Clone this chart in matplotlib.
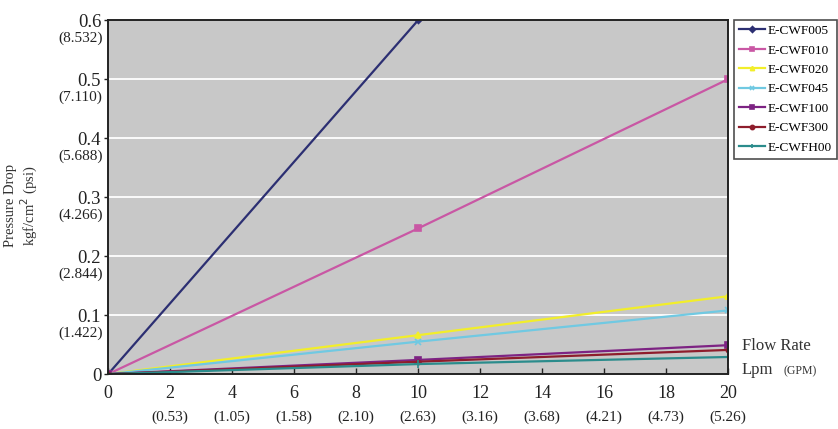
import matplotlib
matplotlib.use("Agg")
import matplotlib.pyplot as plt
import numpy as np

plt.rcParams['font.family'] = ['Liberation Serif', 'DejaVu Serif']

# flow rate in Lpm
flow = [0, 10, 20]
gpm_labels = ['', '(0.53)', '(1.05)', '(1.58)', '(2.10)', '(2.63)', '(3.16)', '(3.68)', '(4.21)', '(4.73)', '(5.26)']
x_ticks = [0, 2, 4, 6, 8, 10, 12, 14, 16, 18, 20]

y_ticks = [0, 0.1, 0.2, 0.3, 0.4, 0.5, 0.6]
psi_labels = ['', '(1.422)', '(2.844)', '(4.266)', '(5.688)', '(7.110)', '(8.532)']

names = ['E-CWF005', 'E-CWF010', 'E-CWF020', 'E-CWF045', 'E-CWF100', 'E-CWF300', 'E-CWFH00']
cwf005 = [0, 0.6, None]
cwf010 = [0, 0.247, 0.5]
cwf020 = [0, 0.066, 0.132]
cwf045 = [0, 0.055, 0.108]
cwf100 = [0, 0.024, 0.049]
cwf300 = [0, 0.021, 0.041]
cwfh00 = [0, 0.017, 0.029]
series = [cwf005, cwf010, cwf020, cwf045, cwf100, cwf300, cwfh00]

colors = ['#2c2f72', '#c957a4', '#f2ee2a', '#70c9e2', '#7d2383', '#8e1d2c', '#2b8c8c']
markers = ['D', 's', '^', 'x', 's', 'o', '+']
msizes = [3, 4, 4, 4, 4, 3, 6]

fig = plt.figure(figsize=(8.38, 4.29), dpi=100)
ax = fig.add_axes([0.129, 0.128, 0.74, 0.825])
ax.set_facecolor('#c8c8c8')

for vals, name, c, m, ms in zip(series, names, colors, markers, msizes):
    xs = [f for f, v in zip(flow, vals) if v is not None]
    ys = [v for v in vals if v is not None]
    ax.plot(xs, ys, color=c, lw=1.6, marker=m, ms=ms, mew=1.2, label=name)

ax.set_xlim(0, 20)
ax.set_ylim(0, 0.6)
for y in y_ticks[1:-1]:
    ax.axhline(y, color='white', lw=1.3, zorder=0.5)

for s in ax.spines.values():
    s.set_color('#222222')
    s.set_linewidth(1.4)

ax.set_xticks(x_ticks)
ax.set_xticklabels([str(t) for t in x_ticks], fontsize=13)
ax.set_yticks(y_ticks)
ax.set_yticklabels(['0', '0.1', '0.2', '0.3', '0.4', '0.5', '0.6'], fontsize=13.5)
ax.tick_params(axis='x', direction='in', length=4, width=1, colors='#222222', pad=8)
ax.tick_params(axis='y', direction='out', length=3, width=1, colors='#222222', pad=2)

for t, lab in zip(x_ticks, gpm_labels):
    if lab:
        ax.annotate(lab, xy=(t, 0), xycoords=('data', 'axes fraction'),
                    xytext=(0, -26), textcoords='offset points',
                    ha='center', va='top', fontsize=11, color='#222222')
for t, lab in zip(y_ticks, psi_labels):
    if lab:
        ax.annotate(lab, xy=(0, t), xycoords=('axes fraction', 'data'),
                    xytext=(-4, -8), textcoords='offset points',
                    ha='right', va='top', fontsize=11, color='#222222')

fig.text(0.026, 0.52, 'Pressure Drop\nkgf/cm$^2$ (psi)', rotation=90,
         ha='center', va='center', fontsize=10.5, color='#333333', linespacing=1.1)

fig.text(0.885, 0.185, 'Flow Rate', fontsize=12, color='#333333', ha='left')
fig.text(0.885, 0.128, 'Lpm', fontsize=12, color='#333333', ha='left')
fig.text(0.935, 0.128, '(GPM)', fontsize=8.5, color='#333333', ha='left')

leg = ax.legend(loc='upper left', bbox_to_anchor=(1.01, 1.0), fontsize=9.5,
                frameon=True, fancybox=False, handlelength=2.0, handletextpad=0.2,
                borderpad=0.35, labelspacing=0.55, borderaxespad=0)
leg.get_frame().set_edgecolor('#222222')
leg.get_frame().set_linewidth(1.2)
for h in leg.legend_handles:
    h.set_markersize(3)

fig.savefig('out.png', dpi=100)
